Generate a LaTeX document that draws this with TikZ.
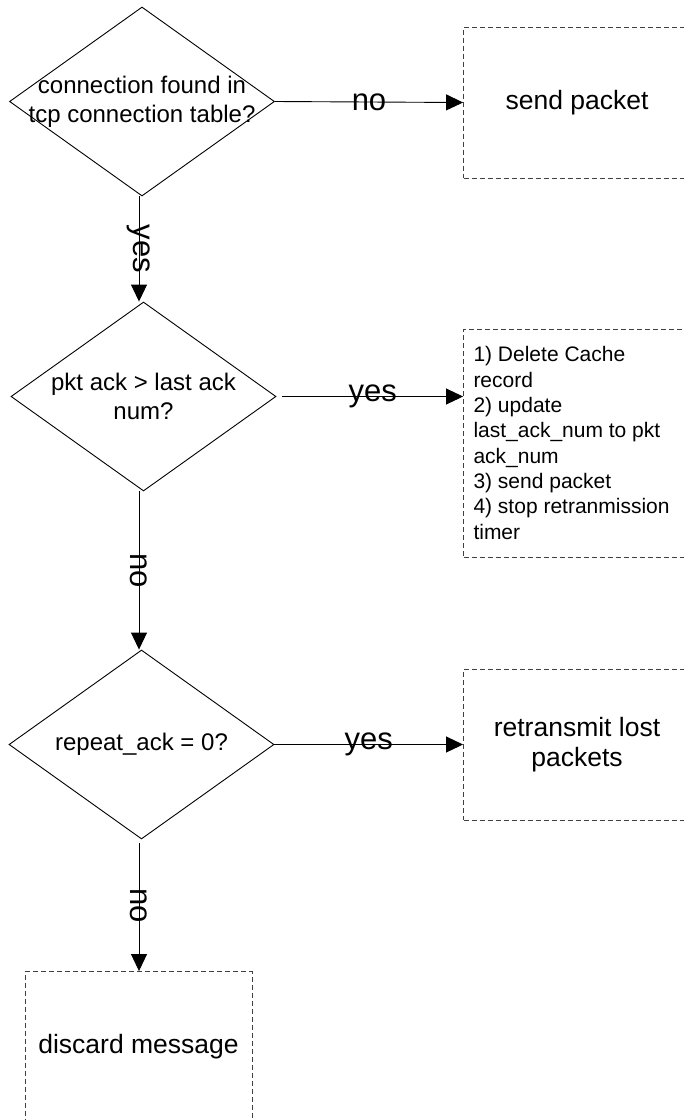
\documentclass[tikz,border=0pt]{standalone}
\usepackage{fontspec}
\setmainfont{Liberation Sans}
\usetikzlibrary{shapes.geometric,arrows.meta}
\begin{document}
\begin{tikzpicture}[x=1pt,y=-1pt,
  decision/.style={draw=black, line width=0.9pt, shape=diamond,
    minimum width=265pt, minimum height=189pt, inner sep=0pt},
  qtext/.style={font=\fontsize{24}{29}\selectfont, align=center, inner sep=0pt},
  process/.style={draw=black!75, line width=0.9pt, dash pattern=on 5pt off 3pt,
    minimum width=227pt, minimum height=151pt, inner sep=0pt,
    font=\fontsize{26.5}{30}\selectfont, align=center},
  flow/.style={draw=black, line width=0.9pt, -{Triangle[length=17pt,width=16pt]}},
  elabel/.style={font=\fontsize{31}{31}\selectfont, inner sep=0pt}
]
\path[use as bounding box] (0,0) rectangle (684,1120);
\clip (0,0) rectangle (684,1120);

% decisions
\node[decision] (d1) at (142,101.5) {};
\node[qtext] (t1) at (d1) {connection found in\\tcp connection table?};
\node[decision] (d2) at (143.5,396.5) {};
\node[qtext] (t2) at (d2) {pkt ack > last ack\\num?};
\node[decision] (d3) at (141.5,744.5) {};
\node[qtext] (t3) at (d3) {repeat\_ack = 0?};

% actions
\node[process] (b1) at (577,102.5) {send packet};
\node[process, minimum height=228pt, text width=207pt, inner xsep=10pt,
      align=flush left, font=\fontsize{21}{25.3}\selectfont] (b2) at (577,443)
  {1) Delete Cache\\record\\2) update\\last\_ack\_num to pkt\\ack\_num\\3) send packet\\4) stop retranmission\\timer};
\node[process] (b3) at (577,744.5) {retransmit lost\\packets};
\node[process] (b4) at (138.5,1047) {discard message};

% horizontal branches
\draw[flow] (d1.east) -- node[elabel] (l1) {no} (b1.west);
\draw[flow] ([xshift=6pt]d2.east) -- node[elabel] (l2) {yes} (d2.east -| b2.west);
\draw[flow] (d3.east) -- node[elabel] (l3) {yes} (b3.west);

% vertical branches
\draw[flow] ([xshift=-3pt]d1.south) -- node[elabel, rotate=-90] (l4) {yes}
  ([xshift=-3pt]d1.south |- d2.north);
\draw[flow] ([xshift=-4.5pt]d2.south) -- node[elabel, rotate=-90] (l5) {no}
  ([xshift=-4.5pt]d2.south |- d3.north);
\draw[flow, shorten <=4pt] ([xshift=-2.5pt]d3.south) -- node[elabel, rotate=-90] (l6) {no}
  ([xshift=-2.5pt]d3.south |- b4.north);
\end{tikzpicture}
\end{document}
